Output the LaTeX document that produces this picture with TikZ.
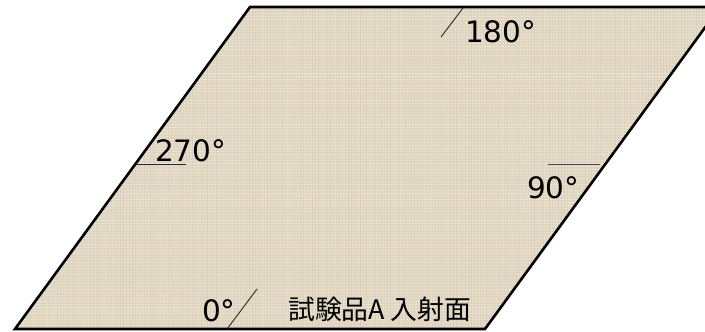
\documentclass[tikz,border=0pt]{standalone}
\usepackage{fontspec}
\setmainfont{DejaVu Sans}
\newfontfamily\jpfont{Noto Sans CJK JP}
\definecolor{linen}{RGB}{225,215,194}
\definecolor{linenlight}{RGB}{244,240,228}
\definecolor{linendark}{RGB}{200,188,164}
\definecolor{markgray}{RGB}{40,40,40}
\begin{document}
\begin{tikzpicture}[x=1pt,y=1pt,
  lbl/.style={inner sep=0pt,anchor=base west,font=\fontsize{29.5}{30}\selectfont},
  jlbl/.style={inner sep=0pt,anchor=base west,font=\jpfont\fontsize{26.8}{27}\selectfont},
  edge/.style={line width=2.6pt,line join=miter},
  tick/.style={line width=0.9pt,draw=markgray}]
\useasboundingbox (0,0) rectangle (705,332);
\clip (0,0) rectangle (705,332);
\coordinate (BL) at (15,3);
\coordinate (TL) at (250,325);
\coordinate (TR) at (720,325);
\coordinate (BR) at (485,3);
\fill[linen] (BL) -- (TL) -- (TR) -- (BR) -- cycle;
\begin{scope}
\clip (BL) -- (TL) -- (TR) -- (BR) -- cycle;
\pgfmathsetseed{7}
\foreach \y in {4,7,...,325}{
  \pgfmathsetmacro{\op}{0.2+0.4*rnd}
  \draw[linenlight,opacity=\op,line width=0.9pt] (0,\y) -- (720,\y);
}
\foreach \x in {15,18,...,720}{
  \pgfmathsetmacro{\op}{0.1+0.25*rnd}
  \draw[linendark,opacity=\op,line width=0.9pt] (\x,0) -- (\x,332);
}
\end{scope}
\draw[edge] (BL) -- (TL) -- (TR) -- (BR) -- cycle;
% ticks
\coordinate (a1) at (441,295); \coordinate (a2) at (463,324);
\draw[tick] (a1) -- (a2);
\coordinate (b1) at (135,168); \coordinate (b2) at (186,168);
\draw[tick] (b1) -- (b2);
\coordinate (c1) at (548,168); \coordinate (c2) at (600,168);
\draw[tick,draw=markgray!85] (c1) -- (c2);
\coordinate (d1) at (227,3); \coordinate (d2) at (257,43);
\draw[tick] (d1) -- (d2);
% labels
\node[lbl] (l180) at (465,289) {180°};
\node[lbl] (l270) at (155,170) {270°};
\node[lbl] (l90) at (527,133) {90°};
\node[lbl] (l0) at (202,10) {0°};
\node[jlbl] (lab) at (288,12) {試験品A 入射面};
\end{tikzpicture}
\end{document}
